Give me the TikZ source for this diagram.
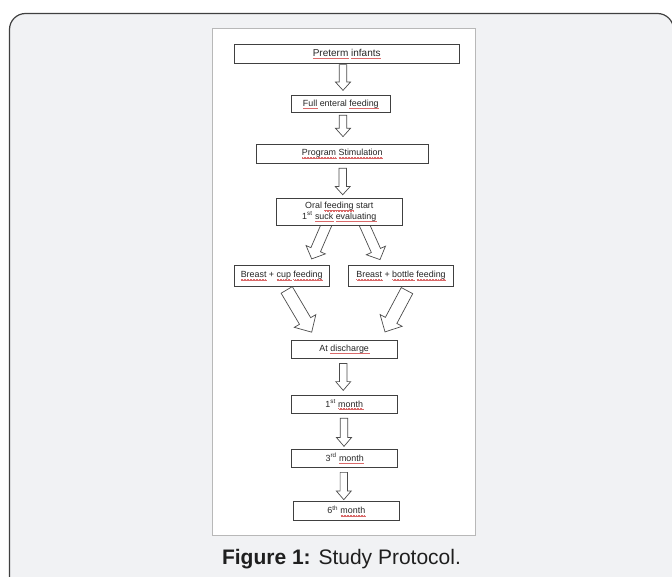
\documentclass[tikz,border=0pt]{standalone}
\usepackage{fontspec}
\setmainfont{Liberation Sans}
\usetikzlibrary{calc}
\pgfdeclarelayer{bg}
\pgfdeclarelayer{arr}
\pgfsetlayers{bg,arr,main}
\definecolor{framegray}{HTML}{F1F2F4}
\definecolor{wavered}{HTML}{DA6A6A}
\newbox\spbox
\newcommand\spellu[1]{\setbox\spbox=\hbox{#1}\rlap{\lower2.2pt\hbox to \wd\spbox{\color{wavered}\xleaders\hbox{\rule[0.55pt]{0.45pt}{0.35pt}\rule[0.25pt]{0.3pt}{0.35pt}\rule{0.45pt}{0.35pt}\rule[0.25pt]{0.3pt}{0.35pt}}\hfill}}\box\spbox}
% block arrow: start, tip, half shaft, half head, head length
\newcommand\blockarrow[5]{%
  \begin{pgfonlayer}{arr}
  \draw[barrowstyle] let \p1=(#1), \p2=(#2),
     \n1={atan2(\y2-\y1,\x2-\x1)}, \n2={veclen(\x2-\x1,\y2-\y1)} in
     [shift={(\p1)}, rotate=\n1]
     (0pt,-#3) -- ({\n2*1pt-#5},-#3) -- ({\n2*1pt-#5},-#4) -- ({\n2*1pt},0pt)
     -- ({\n2*1pt-#5},#4) -- ({\n2*1pt-#5},#3) -- (0pt,#3) -- cycle;
  \end{pgfonlayer}}
\tikzset{
  box/.style={draw=black!75, line width=0.7bp, fill=white, inner sep=0pt,
    font=\fontsize{8.9bp}{10.6bp}\selectfont, text=black!85, align=center},
  barrowstyle/.style={draw=black!70, line width=0.7bp, fill=white, line join=miter},
}
\begin{document}
\begin{tikzpicture}[x=1bp,y=-1bp]
\useasboundingbox (0,0) rectangle (672,577);
\begin{pgfonlayer}{bg}
\draw[fill=framegray, draw=black!75, line width=1.2bp, rounded corners=16bp] (9.5,13.5) rectangle (673.5,592);
\draw[fill=white, draw=black!28, line width=0.8bp] (212.7,28.3) rectangle (475.5,535.7);
\end{pgfonlayer}

\node[box, minimum width=225bp, minimum height=19bp, font=\fontsize{10bp}{12bp}\selectfont] (pre) at (346.7,53.8) {\spellu{Preterm} \spellu{infants}};
\node[box, minimum width=99.7bp, minimum height=17bp] (full) at (340.8,104.2) {\spellu{Full} enteral \spellu{feeding}};
\node[box, minimum width=172.7bp, minimum height=19.7bp] (prog) at (342.3,153.8) {\spellu{Program} \spellu{Stimulation}};
\node[box, minimum width=125.3bp, minimum height=27bp] (oral) at (339.3,211.9) {Oral \spellu{feeding} start\\1\textsuperscript{st} \spellu{suck} \spellu{evaluating}};
\node[box, minimum width=95.3bp, minimum height=20.3bp] (cup) at (281.7,275.8) {\spellu{Breast} + \spellu{cup} \spellu{feeding}};
\node[box, minimum width=104.6bp, minimum height=20.3bp] (bottle) at (401,275.8) {\spellu{Breast} + \spellu{bottle} \spellu{feeding}};
\node[box, minimum width=106.3bp, minimum height=18.3bp] (disc) at (344.2,349.2) {At \spellu{discharge}};
\node[box, minimum width=106.3bp, minimum height=18.3bp] (m1) at (344.2,404.2) {1\textsuperscript{st} \spellu{month}};
\node[box, minimum width=106bp, minimum height=18.4bp] (m3) at (344.7,458.5) {3\textsuperscript{rd} \spellu{month}};
\node[box, minimum width=106bp, minimum height=18.3bp] (m6) at (346.3,510.9) {6\textsuperscript{th} \spellu{month}};

\node[font=\fontsize{21bp}{24bp}\selectfont, text=black!88, anchor=base] (cap) at (341.5,564) {\textbf{Figure 1:} Study Protocol.};

\coordinate (ax1) at (343,0);
\coordinate (ax2) at (343,0);
\coordinate (ax3) at (342.7,0);
\coordinate (ax4) at (343.2,0);
\coordinate (ax5) at (344,0);
\coordinate (ax6) at (343.8,0);

\blockarrow{$(pre.south -| ax1)+(0,1)$}{$(full.north -| ax1)+(0,-5)$}{3.7bp}{7.5bp}{8.3bp}
\blockarrow{$(full.south -| ax2)+(0,2.3)$}{$(prog.north -| ax2)+(0,-7)$}{3.7bp}{7.5bp}{8.3bp}
\blockarrow{$(prog.south -| ax3)+(0,4.3)$}{$(oral.north -| ax3)+(0,-3.3)$}{3.7bp}{7.5bp}{8.3bp}
\blockarrow{$(disc.south -| ax4)+(0,4.7)$}{$(m1.north -| ax4)+(0,-4.3)$}{3.7bp}{7.5bp}{8.8bp}
\blockarrow{$(m1.south -| ax5)+(0,4.5)$}{$(m3.north -| ax5)+(0,-2.6)$}{3.7bp}{7.5bp}{8.8bp}
\blockarrow{$(m3.south -| ax6)+(0,4.3)$}{$(m6.north -| ax6)+(0,-1.7)$}{3.7bp}{7.5bp}{8.8bp}

\blockarrow{$(oral.south)+(-11.5,-4)$}{$(cup.north)+(30,-6.4)$}{5.2bp}{10.5bp}{10bp}
\blockarrow{$(oral.south)+(23.7,-4)$}{$(bottle.north)+(-21,-5.7)$}{5bp}{10.5bp}{10bp}

\blockarrow{$(cup.south)+(5,3.6)$}{$(disc.north)+(-32.5,-7.5)$}{6.5bp}{12.5bp}{13bp}
\blockarrow{$(bottle.south)+(6,4.3)$}{$(disc.north)+(40.8,-7.8)$}{6.5bp}{12.5bp}{13bp}
\end{tikzpicture}
\end{document}
